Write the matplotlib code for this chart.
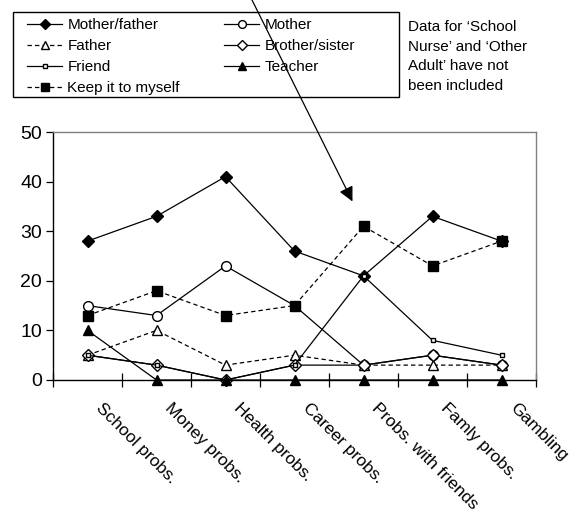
import numpy as np
import matplotlib
matplotlib.use('Agg')
import matplotlib.pyplot as plt
from matplotlib.patches import Rectangle
from matplotlib.transforms import ScaledTranslation

plt.rcParams['font.family'] = ['Liberation Sans', 'DejaVu Sans']

categories = ['School probs.', 'Money probs.', 'Health probs.', 'Career probs.',
              'Probs. with friends', 'Famly probs.', 'Gambling']

mother_father = [28, 33, 41, 26, 21, 33, 28]
mother = [15, 13, 23, 15, 3, 5, 3]
father = [5, 10, 3, 5, 3, 3, 3]
brother_sister = [5, 3, 0, 3, 3, 5, 3]
friend = [5, 3, 0, 3, 21, 8, 5]
teacher = [10, 0, 0, 0, 0, 0, 0]
keep_to_myself = [13, 18, 13, 15, 31, 23, 28]

note = "Data for \u2018School\nNurse\u2019 and \u2018Other\nAdult\u2019 have not\nbeen included"

W, H = 579, 515
fig = plt.figure(figsize=(W / 100, H / 100), dpi=100)
ax = fig.add_axes([53 / W, 1 - 380 / H, (536 - 53) / W, (380 - 132) / H])

x = np.arange(len(categories))
lw = 0.9
dash = (0, (3.5, 2.5))

h_mf, = ax.plot(x, mother_father, '-', color='black', lw=lw, marker='D', ms=6.5,
                mfc='black', mec='black', label='Mother/father')
h_m, = ax.plot(x, mother, '-', color='black', lw=lw, marker='o', ms=7,
               mfc='white', mec='black', label='Mother')
h_f, = ax.plot(x, father, linestyle=dash, color='black', lw=lw, marker='^', ms=7.5,
               mfc='white', mec='black', label='Father')
h_b, = ax.plot(x, brother_sister, '-', color='black', lw=lw, marker='D', ms=6,
               mfc='white', mec='black', label='Brother/sister', clip_on=False)
h_fr, = ax.plot(x, friend, '-', color='black', lw=lw, marker='s', ms=3.5,
                mfc='white', mec='black', label='Friend')
h_t, = ax.plot(x, teacher, '-', color='black', lw=lw, marker='^', ms=7.5,
               mfc='black', mec='black', label='Teacher', clip_on=False)
h_k, = ax.plot(x, keep_to_myself, linestyle=dash, color='black', lw=lw, marker='s', ms=7.5,
               mfc='black', mec='black', label='Keep it to myself')

ax.set_xlim(-0.5, len(categories) - 0.5)
ax.set_ylim(0, 50)
ax.set_yticks([0, 10, 20, 30, 40, 50])
ax.tick_params(axis='y', direction='out', length=5, width=0.9, labelsize=14, pad=3)

# category boundaries carry the tick marks, labels sit at the centres
ax.set_xticks(np.arange(-0.5, len(categories)), minor=False)
ax.set_xticklabels([])
ax.tick_params(axis='x', which='major', direction='inout', length=10, width=0.9)
ax.set_xticks(x, minor=True)
ax.set_xticklabels(categories, minor=True, rotation=-45, ha='left',
                   rotation_mode='anchor', fontsize=12.5)
ax.tick_params(axis='x', which='minor', length=0, pad=15)
shift = ScaledTranslation(16 / 100, 0, fig.dpi_scale_trans)
for lbl in ax.get_xticklabels(minor=True):
    lbl.set_transform(lbl.get_transform() + shift)

for side in ['left', 'bottom']:
    ax.spines[side].set_color('black')
    ax.spines[side].set_linewidth(1.0)
for side in ['top', 'right']:
    ax.spines[side].set_color('#808080')
    ax.spines[side].set_linewidth(1.0)

# legend box drawn separately so its padding can be uneven
fig.patches.append(Rectangle((13 / W, 1 - 97 / H), (399 - 13) / W, (97 - 12) / H,
                             transform=fig.transFigure, fill=False,
                             edgecolor='black', lw=1.0))
handles = [h_mf, h_f, h_fr, h_k, h_m, h_b, h_t]
fig.legend(handles=handles, labels=[h.get_label() for h in handles], ncol=2,
           loc='upper left', bbox_to_anchor=(27 / W, 1 - 18 / H), frameon=False,
           fontsize=11, handlelength=2.3, handletextpad=0.35, columnspacing=2.9,
           labelspacing=0.46, borderpad=0, borderaxespad=0, markerscale=0.8)

fig.text(408 / W, 1 - 20 / H, note, fontsize=11, va='top', ha='left', linespacing=1.52)

ax.annotate('', xy=(3.84, 36), xycoords='data',
            xytext=(252, H), textcoords='figure pixels',
            arrowprops=dict(arrowstyle='-|>', color='black', lw=0.9,
                            mutation_scale=22, shrinkA=0, shrinkB=0),
            annotation_clip=False)

fig.savefig('out.png', dpi=100)
